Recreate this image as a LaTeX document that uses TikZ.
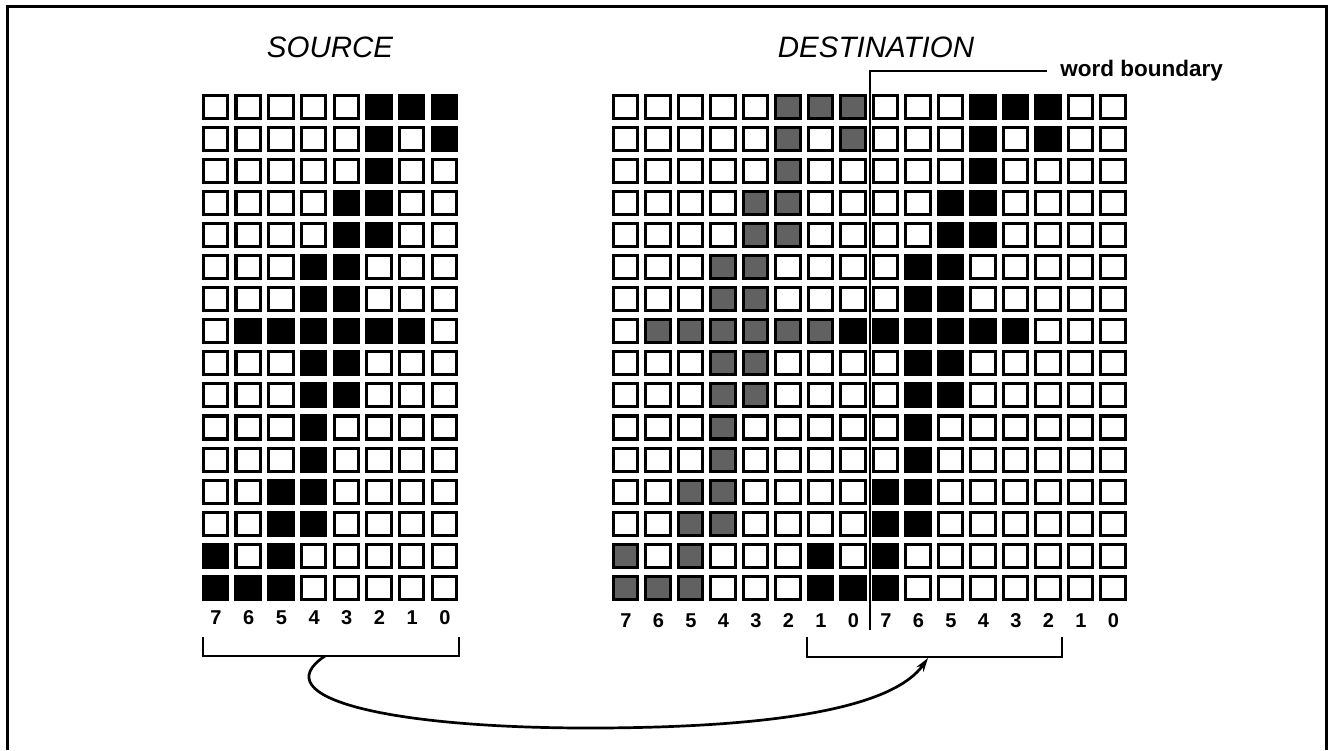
\documentclass[tikz,border=0pt]{standalone}
\usepackage{fontspec}
\setmainfont{Liberation Sans}
\usetikzlibrary{arrows.meta}

% rows of the glyph, columns counted from the left (bit 7 = column 0)
\def\glyphrows{0/{5,6,7},1/{5,7},2/{5},3/{4,5},4/{4,5},5/{3,4},6/{3,4},7/{1,2,3,4,5,6},8/{3,4},9/{3,4},10/{3},11/{3},12/{2,3},13/{2,3},14/{0,2},15/{0,1,2}}

\tikzset{
  cellbox/.style={draw,line width=3.1pt,fill=white},
  inkbox/.style={cellbox,fill=black},
  tonebox/.style={cellbox,fill=black!62},
  bitlabel/.style={font=\fontsize{20}{20}\bfseries\selectfont,inner sep=0pt},
  headlabel/.style={font=\fontsize{29.5}{30}\itshape\selectfont,inner sep=0pt},
}

\begin{document}
\begin{tikzpicture}[x=1pt,y=-1pt,line width=2.7pt]
\useasboundingbox (0,0) rectangle (1333,750);
\draw[line width=3pt] (7.5,750) -- (7.5,6.5) -- (1326,6.5) -- (1326,750);

\node[headlabel] (srctitle) at (330,47) {SOURCE};
\node[headlabel] (dsttitle) at (876,47) {DESTINATION};

% source byte
\begin{scope}[shift={(203,95)}]
\foreach \r in {0,...,15}
  \foreach \c in {0,...,7}
    \path[cellbox] (\c*32.7+.3,\r*32.07+.3) rectangle ++(24.4,23);
\foreach \r/\cs in \glyphrows
  \foreach \c in \cs
    \path[inkbox] (\c*32.7+.3,\r*32.07+.3) rectangle ++(24.4,23);
\foreach \c [evaluate=\c as \b using int(7-\c)] in {0,...,7}
  \node[bitlabel] (s\c) at (\c*32.7+13,523) {\b};
\end{scope}

% destination word pair
\begin{scope}[shift={(613,95)}]
\foreach \r in {0,...,15}
  \foreach \c in {0,...,15}
    \path[cellbox] (\c*32.5+.3,\r*32.07+.3) rectangle ++(24.4,23);
\foreach \r/\cs in \glyphrows
  \foreach \c in \cs
    \path[tonebox] (\c*32.5+.3,\r*32.07+.3) rectangle ++(24.4,23);
\foreach \r/\cs in \glyphrows
  \foreach \c in \cs
    \path[inkbox] ({(\c+6)*32.5+.3},\r*32.07+.3) rectangle ++(24.4,23);
\foreach \c [evaluate=\c as \b using {int(7-mod(\c,8))}] in {0,...,15}
  \node[bitlabel] (d\c) at (\c*32.5+13,526) {\b};
\end{scope}

% brackets
\draw (203,637) -- (203,656) -- (459,656) -- (459,637);
\draw (807,637) -- (807,657) -- (1062,657) -- (1062,637);
\coordinate (srcpick) at (325,656);
\coordinate (dstpick) at (928,658);
\draw[-{Stealth[length=14pt,width=8.5pt]}] (srcpick) .. controls (262,698) and (390,729) .. (600,728) .. controls (790,727) and (895,705) .. (dstpick);

% word boundary
\node[font=\fontsize{22.5}{22.5}\bfseries\selectfont,anchor=west,inner xsep=12pt,inner ysep=0pt] (wbtext) at (1047,71) {word boundary};
\coordinate (wbfoot) at (870,630);
\draw[line width=2.2pt] (wbfoot) |- (wbtext.west);
\end{tikzpicture}
\end{document}
